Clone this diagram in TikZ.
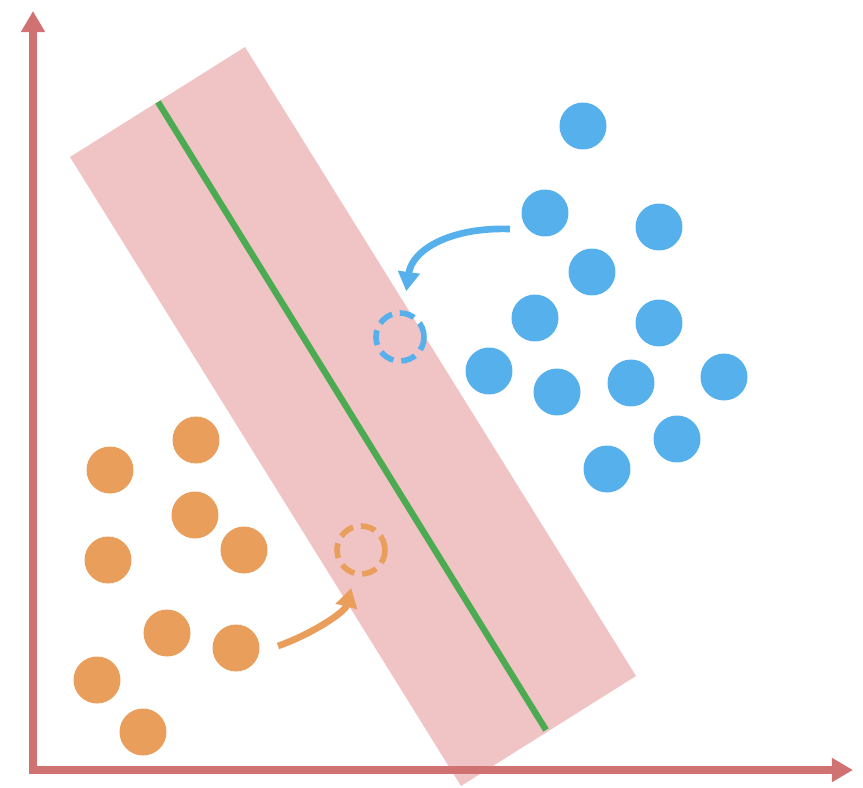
\documentclass[tikz,border=0pt]{standalone}
\usetikzlibrary{arrows.meta}
\definecolor{axisred}{RGB}{208,114,114}
\definecolor{bandpink}{RGB}{240,196,196}
\definecolor{divgreen}{RGB}{76,170,82}
\definecolor{ptblue}{RGB}{86,176,235}
\definecolor{ptorange}{RGB}{233,158,92}
\begin{document}
\begin{tikzpicture}[
      x=0.02cm, y=-0.02cm,
      dot/.style={circle,inner sep=0pt,minimum size=0.94cm},
      ghost/.style={circle,draw,inner sep=0pt,minimum size=0.96cm,line width=3.2pt,dash pattern=on 8.5pt off 4.5pt},
      axis/.style={{Triangle[length=12pt,width=13pt]}-{Triangle[length=12pt,width=13pt]},line width=4.6pt,axisred},
      move/.style={-{Triangle[length=11pt,width=12pt]},line width=3.8pt}
    ]
      \useasboundingbox (0,0) rectangle (863,788);
      % margin band and separating line
      \fill[bandpink] (70,157) -- (245,47) -- (636,676) -- (461,786) -- cycle;
      \coordinate (ltop) at (158,102);
      \coordinate (lbot) at (546,730);
      \draw[divgreen,line width=3.6pt] (ltop) -- (lbot);
      % axes
      \coordinate (ytip) at (33,11);
      \coordinate (origin) at (33,770);
      \coordinate (xtip) at (853,770);
      \draw[axis] (ytip) -- (origin) -- (xtip);
      % classes
      \foreach \n/\x/\y in {1/583/126,2/545/213,3/659/227,4/592/272,5/535/318,6/659/323,
                            7/489/371,8/557/392,9/631/383,10/724/377,11/677/439,12/607/469}
        \node[dot,fill=ptblue] (b\n) at (\x,\y) {};
      \foreach \n/\x/\y in {1/196/440,2/110/470,3/195/515,4/244/550,5/108/560,
                            6/167/633,7/236/648,8/97/680,9/143/732}
        \node[dot,fill=ptorange] (o\n) at (\x,\y) {};
      % moved points
      \node[ghost,ptblue] (bghost) at (400,337) {};
      \node[ghost,ptorange] (oghost) at (361,550) {};
      \coordinate (bstart) at (510,229);
      \coordinate (ostart) at (278,646);
      \draw[move,ptblue,shorten >=11pt] (bstart) .. controls (450,227) and (412,250) .. (bghost);
      \draw[move,ptorange,shorten >=7pt] (ostart) .. controls (312,634) and (345,612) .. (oghost);
    \end{tikzpicture}
\end{document}
